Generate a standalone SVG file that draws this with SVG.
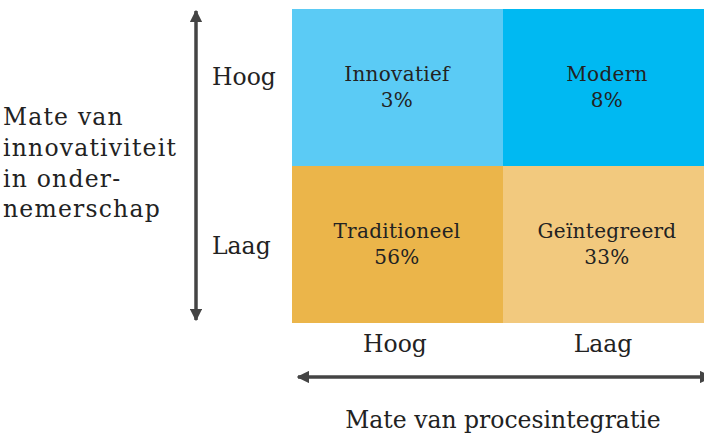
<svg xmlns="http://www.w3.org/2000/svg" width="704" height="440" viewBox="0 0 704 440">
<style>
text{font-family:"DejaVu Serif","Liberation Serif",serif;fill:#222}
.lab{font-size:23.5px}
.side{letter-spacing:1.2px}
.q{font-size:20px;text-anchor:middle;letter-spacing:0.3px}
.ax{stroke:#444;stroke-width:3.5;fill:none}
</style>
<defs>
<marker id="ah" viewBox="0 0 10 10" refX="9" refY="5" markerWidth="3.6" markerHeight="3.6" orient="auto-start-reverse" markerUnits="strokeWidth">
<path d="M0,0 L10,5 L0,10 Z" fill="#444"/>
</marker>
</defs>
<rect width="704" height="440" fill="#fff"/>
<g id="q-innovatief"><rect x="292" y="9" width="211" height="157" fill="#5BCBF5"/><text class="q" x="397" y="81">Innovatief</text><text class="q" x="397" y="107">3%</text></g>
<g id="q-modern"><rect x="503" y="9" width="201" height="157" fill="#00B9F2"/><text class="q" x="607" y="81">Modern</text><text class="q" x="607" y="107">8%</text></g>
<g id="q-traditioneel"><rect x="292" y="166" width="211" height="157" fill="#EBB54A"/><text class="q" x="397" y="238">Traditioneel</text><text class="q" x="397" y="264">56%</text></g>
<g id="q-geintegreerd"><rect x="503" y="166" width="201" height="157" fill="#F2C97E"/><text class="q" x="607" y="238">Geïntegreerd</text><text class="q" x="607" y="264">33%</text></g>
<g id="connectors">
<line class="ax" x1="196" y1="11" x2="196" y2="320" marker-start="url(#ah)" marker-end="url(#ah)"/>
<line class="ax" x1="298" y1="377" x2="711" y2="377" marker-start="url(#ah)" marker-end="url(#ah)"/>
</g>
<g id="labels">
<text class="lab" x="212" y="85">Hoog</text>
<text class="lab" x="212" y="254">Laag</text>
<text class="lab" x="395" y="352" text-anchor="middle">Hoog</text>
<text class="lab" x="603" y="352" text-anchor="middle">Laag</text>
<text class="lab" x="503" y="428" text-anchor="middle">Mate van procesintegratie</text>
<text class="lab side" x="3" y="125">Mate van</text>
<text class="lab side" x="3" y="156">innovativiteit</text>
<text class="lab side" x="3" y="187">in onder-</text>
<text class="lab side" x="3" y="217">nemerschap</text>
</g>
</svg>
